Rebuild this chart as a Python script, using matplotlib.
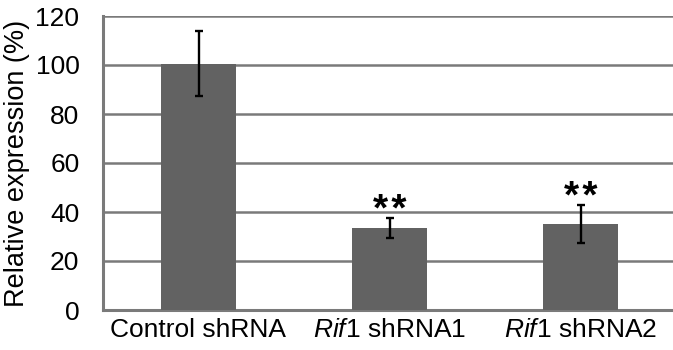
import matplotlib
matplotlib.use("Agg")
import matplotlib.pyplot as plt

categories = ["Control shRNA", "$\\mathit{Rif1}$ shRNA1", "$\\mathit{Rif1}$ shRNA2"]
values = [100.6, 33.5, 35.2]
errors = [13.4, 4.0, 7.7]
stars = ["", "*\u200a*", "*\u200a*"]
yticks = [0, 20, 40, 60, 80, 100, 120]

plt.rcParams['font.family'] = ['Liberation Sans', 'DejaVu Sans']
plt.rcParams['mathtext.fontset'] = 'custom'
plt.rcParams['mathtext.rm'] = 'Liberation Sans'
plt.rcParams['mathtext.it'] = 'Liberation Sans:italic'

W, H = 673, 350
fig = plt.figure(figsize=(W/100, H/100), dpi=100)
ax = fig.add_axes([103/W, 40/H, 573/W, 294/H])

grid_c = '#7a7a7a'
fs = 19
x = list(range(len(categories)))
ax.bar(x, values, width=0.393, color='#626262', zorder=3,
       yerr=errors, error_kw=dict(ecolor='black', elinewidth=1.7, capsize=3.2, capthick=1.7, zorder=4))
for xi, v, e, s in zip(x, values, errors, stars):
    if s:
        ax.text(xi, v + e - 4.5, s, ha='center', va='bottom', fontsize=28,
                fontweight='semibold', zorder=5)

ax.set_xlim(-0.5, 2.5)
ax.set_ylim(0, 120)
ax.set_yticks(yticks)
ax.yaxis.grid(True, color=grid_c, linewidth=1.8, zorder=0)
ax.set_axisbelow(True)
ax.set_xticks(x)
ax.set_xticklabels(categories, fontsize=fs)
ax.tick_params(axis='both', length=0, labelsize=fs)
ax.tick_params(axis='y', pad=17)
ax.tick_params(axis='x', pad=6)
for sp in ['top', 'right']:
    ax.spines[sp].set_visible(False)
for sp in ['left', 'bottom']:
    ax.spines[sp].set_color(grid_c)
    ax.spines[sp].set_linewidth(2.2)
ax.set_ylabel("Relative expression (%)", fontsize=19.5, labelpad=4)

fig.savefig("out.png", dpi=100)
